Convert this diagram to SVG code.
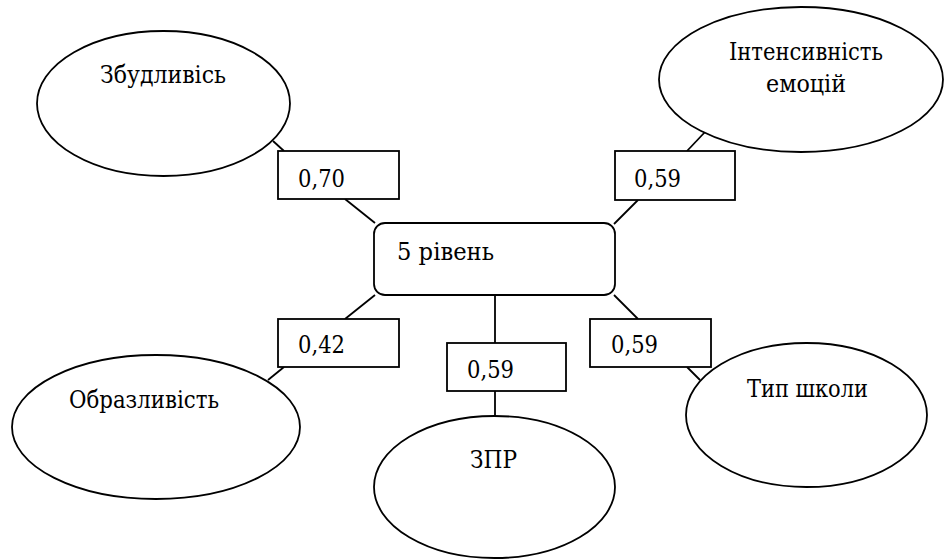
<svg xmlns="http://www.w3.org/2000/svg" width="944" height="560" viewBox="0 0 944 560">
<style>
.s{fill:#fff;stroke:#000;stroke-width:1.8}
.c line{stroke:#000;stroke-width:1.8}
text{font-family:'DejaVu Serif','Liberation Serif',serif;font-size:24px;fill:#000}
</style>
<rect width="944" height="560" fill="#fff"/>
<g class="c" id="connectors">
<line x1="273" y1="141" x2="284" y2="151"/>
<line x1="345" y1="199" x2="375" y2="223"/>
<line x1="705" y1="132" x2="687" y2="151"/>
<line x1="638" y1="200" x2="614" y2="224"/>
<line x1="375" y1="295" x2="345" y2="319"/>
<line x1="284" y1="367" x2="268" y2="380"/>
<line x1="495" y1="295" x2="495" y2="343"/>
<line x1="495" y1="391" x2="495" y2="416"/>
<line x1="614" y1="295" x2="638" y2="319"/>
<line x1="687" y1="367" x2="700" y2="380"/>
</g>
<g id="center">
<rect class="s" x="374" y="223" width="241" height="72" rx="11"/>
<text x="397" y="260" textLength="97" lengthAdjust="spacingAndGlyphs">5 рівень</text>
</g>
<g id="zbudlyvist">
<ellipse class="s" cx="163.5" cy="103.5" rx="126.5" ry="72.5"/>
<text x="100" y="83" textLength="126" lengthAdjust="spacingAndGlyphs">Збудливісь</text>
</g>
<g id="intensyvnist">
<ellipse class="s" cx="801" cy="79.5" rx="142" ry="72.5"/>
<text x="729" y="60" textLength="154" lengthAdjust="spacingAndGlyphs">Інтенсивність</text>
<text x="766" y="92" textLength="80" lengthAdjust="spacingAndGlyphs">емоцій</text>
</g>
<g id="obrazlyvist">
<ellipse class="s" cx="156" cy="427" rx="144" ry="72"/>
<text x="69" y="408" textLength="150" lengthAdjust="spacingAndGlyphs">Образливість</text>
</g>
<g id="zpr">
<ellipse class="s" cx="494.5" cy="487" rx="120.5" ry="71"/>
<text x="470" y="468" textLength="47" lengthAdjust="spacingAndGlyphs">ЗПР</text>
</g>
<g id="typ-shkoly">
<ellipse class="s" cx="806.5" cy="415" rx="120.5" ry="72"/>
<text x="747" y="397" textLength="121" lengthAdjust="spacingAndGlyphs">Тип школи</text>
</g>
<g id="w1">
<rect class="s" x="278" y="151" width="121" height="48"/>
<text x="298" y="187" textLength="47" lengthAdjust="spacingAndGlyphs">0,70</text>
</g>
<g id="w2">
<rect class="s" x="615" y="151" width="120" height="49"/>
<text x="634" y="187" textLength="47" lengthAdjust="spacingAndGlyphs">0,59</text>
</g>
<g id="w3">
<rect class="s" x="278" y="319" width="121" height="48"/>
<text x="298" y="353" textLength="47" lengthAdjust="spacingAndGlyphs">0,42</text>
</g>
<g id="w4">
<rect class="s" x="447" y="343" width="119" height="48"/>
<text x="467" y="378" textLength="47" lengthAdjust="spacingAndGlyphs">0,59</text>
</g>
<g id="w5">
<rect class="s" x="590" y="319" width="121" height="48"/>
<text x="611" y="353" textLength="47" lengthAdjust="spacingAndGlyphs">0,59</text>
</g>
</svg>
